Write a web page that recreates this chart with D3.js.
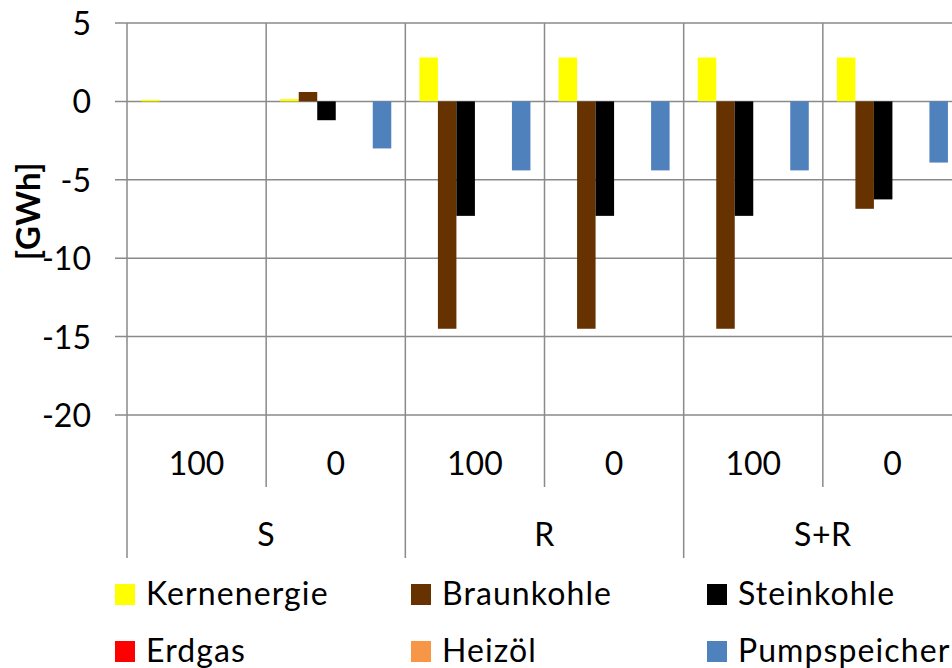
<!DOCTYPE html>
<html>
<head>
<meta charset="utf-8">
<script src="https://cdn.jsdelivr.net/npm/d3@7"></script>
<style>
  html, body { margin: 0; padding: 0; background: #fff; }
  svg { display: block; }
  text { font-family: Lato, "Open Sans", sans-serif; fill: #000; }
</style>
</head>
<body>
<div id="chart"></div>
<script>
// Outer groups and the inner categories under each of them
const groups = ["S", "R", "S+R"];
const subLabels = ["100", "0"];
const categories = ["S|100", "S|0", "R|100", "R|0", "S+R|100", "S+R|0"];

// Energy sources (legend order) and their fills
const seriesNames = ["Kernenergie", "Braunkohle", "Steinkohle", "Erdgas", "Heizöl", "Pumpspeicher"];
const seriesColors = ["#FFFF00", "#663300", "#000000", "#FF0000", "#F79646", "#4F81BD"];

// Change in generation per source, in GWh, one entry per category
const kernenergie  = [0.1, 0.15, 2.8, 2.8, 2.8, 2.8];
const braunkohle   = [0, 0.6, -14.5, -14.5, -14.5, -6.85];
const steinkohle   = [0, -1.2, -7.3, -7.3, -7.3, -6.25];
const erdgas       = [0, 0, 0, 0, 0, 0];
const heizoel      = [0, 0, 0, 0, 0, 0];
const pumpspeicher = [0, -3.0, -4.4, -4.4, -4.4, -3.9];

const yTicks = [5, 0, -5, -10, -15, -20];
const yTitle = "[GWh]";

const seriesValues = [kernenergie, braunkohle, steinkohle, erdgas, heizoel, pumpspeicher];

const W = 952, H = 668;
const plot = { left: 127, right: 962, top: 23, bottom: 415 };
const gridColor = "#8a8a8a";

const svg = d3.select("#chart").append("svg")
  .attr("width", W).attr("height", H);

const y = d3.scaleLinear().domain([-20, 5]).range([plot.bottom, plot.top]);
const x = d3.scaleBand().domain(categories).range([plot.left, plot.right]).padding(0);
const xs = d3.scaleBand().domain(seriesNames).range([0, x.bandwidth()])
  .paddingInner(0).paddingOuter(0.76);

// Horizontal gridlines (they also carry the small tick on the left)
svg.append("g").selectAll("line").data(yTicks).join("line")
  .attr("x1", plot.left - 12).attr("x2", W)
  .attr("y1", d => y(d)).attr("y2", d => y(d))
  .attr("stroke", gridColor).attr("stroke-width", 1.5);

// Vertical gridlines at category boundaries, continued below the plot
const boundaries = d3.range(categories.length + 1);
svg.append("g").selectAll("line").data(boundaries).join("line")
  .attr("x1", i => i < categories.length ? x(categories[i]) : plot.right)
  .attr("x2", i => i < categories.length ? x(categories[i]) : plot.right)
  .attr("y1", plot.top)
  .attr("y2", i => (i % 2 === 0) ? 558 : 487)
  .attr("stroke", gridColor).attr("stroke-width", 1.5);

// Y axis labels
const yAxis = d3.axisLeft(y).tickValues(yTicks).tickSize(0).tickPadding(0)
  .tickFormat(d3.format("d"));
const gy = svg.append("g").attr("transform", `translate(91,0)`).call(yAxis);
gy.select(".domain").remove();
gy.selectAll("text")
  .attr("font-family", "Lato, sans-serif").attr("font-size", 32)
  .attr("fill", "#000").attr("dy", "0.36em")
  .text(d => d < 0 ? "-" + Math.abs(d) : d);

// Y title
svg.append("text")
  .attr("transform", "translate(40,211) rotate(-90)")
  .attr("text-anchor", "middle")
  .attr("font-size", 33).attr("font-weight", "bold")
  .attr("letter-spacing", 0.5)
  .text(yTitle);

// Bars
const barData = [];
seriesNames.forEach((s, si) => {
  categories.forEach((c, ci) => {
    barData.push({ series: s, color: seriesColors[si], cat: c, value: seriesValues[si][ci] });
  });
});
svg.append("g").selectAll("rect").data(barData.filter(d => d.value !== 0)).join("rect")
  .attr("x", d => x(d.cat) + xs(d.series))
  .attr("width", xs.bandwidth())
  .attr("y", d => y(Math.max(0, d.value)))
  .attr("height", d => Math.abs(y(d.value) - y(0)))
  .attr("fill", d => d.color);

// Inner category labels
svg.append("g").selectAll("text").data(categories).join("text")
  .attr("x", d => x(d) + x.bandwidth() / 2)
  .attr("y", 475)
  .attr("text-anchor", "middle")
  .attr("font-size", 32)
  .text((d, i) => subLabels[i % 2]);

// Outer group labels
svg.append("g").selectAll("text").data(groups).join("text")
  .attr("x", (d, i) => x(categories[i * 2]) + x.bandwidth())
  .attr("y", 546)
  .attr("text-anchor", "middle")
  .attr("font-size", 32)
  .attr("letter-spacing", 0.5)
  .text(d => d);

// Legend: three columns, two rows
const legend = svg.append("g").selectAll("g").data(seriesNames).join("g")
  .attr("transform", (d, i) => `translate(${115 + (i % 3) * 296},${584 + Math.floor(i / 3) * 57})`);
legend.append("rect")
  .attr("width", 20).attr("height", 21)
  .attr("fill", (d, i) => seriesColors[i]);
legend.append("text")
  .attr("x", 31).attr("y", 21)
  .attr("font-size", 32)
  .attr("letter-spacing", 1.1)
  .text(d => d);
</script>
</body>
</html>
